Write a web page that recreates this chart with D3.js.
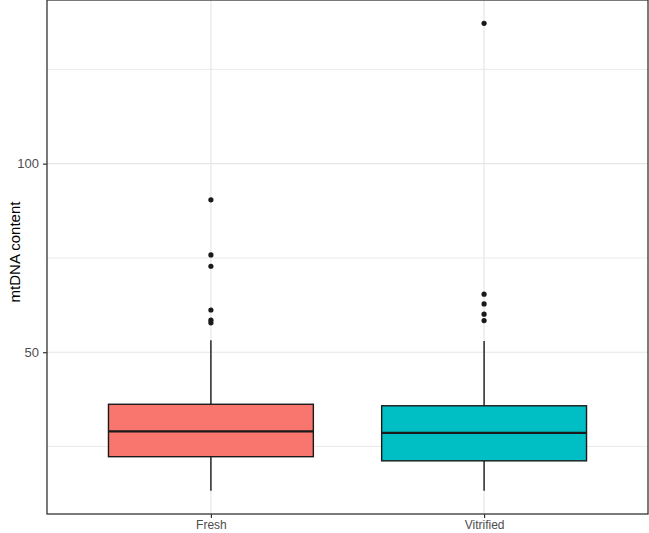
<!DOCTYPE html>
<html>
<head>
<meta charset="utf-8">
<script src="https://cdn.jsdelivr.net/npm/d3@7/dist/d3.min.js"></script>
<style>
  body { margin: 0; background: #fff; }
  svg { display: block; font-family: "Liberation Sans", Arial, sans-serif; }
</style>
</head>
<body>
<div id="graph"></div>
<script>
// data
var groups = ["Fresh", "Vitrified"];
var colors = ["#F8766D", "#00BFC4"];
var whiskerLow = [13.3, 13.3];
var q1 = [22.3, 21.2];
var medians = [29.0, 28.6];
var q3 = [36.2, 35.8];
var whiskerHigh = [53.2, 53.0];
var outliersFresh = [90.4, 75.8, 72.8, 61.2, 58.5, 57.8];
var outliersVitrified = [137.2, 65.4, 62.8, 60.1, 58.4];
var majorTicks = [50, 100];
var minorTicks = [25, 75, 125];

//measurements
var width = 649;
var height = 533;
var margin = { top: 0, right: 1, bottom: 19, left: 47 };
var chartWidth = width - margin.left - margin.right;
var chartHeight = height - margin.top - margin.bottom;

var svg = d3.select("#graph").append("svg")
    .attr("width", width)
    .attr("height", height);

var plot = svg.append("g")
    .attr("transform", "translate(" + margin.left + "," + margin.top + ")");

// scales (ggplot style: 5% expansion on continuous, 0.6 on discrete)
var allVals = whiskerLow.concat(whiskerHigh, outliersFresh, outliersVitrified);
var lo = d3.min(allVals), hi = d3.max(allVals);
var pad = (hi - lo) * 0.05;
var y = d3.scaleLinear()
    .domain([lo - pad, hi + pad])
    .range([chartHeight, 0]);

var x = d3.scaleLinear()
    .domain([0.4, groups.length + 0.6])
    .range([0, chartWidth]);
var boxW = x(1.375) - x(1);

// grid
plot.selectAll(".minor")
    .data(minorTicks)
    .enter().append("line")
    .attr("class", "minor")
    .attr("x1", 0).attr("x2", chartWidth)
    .attr("y1", function(d) { return y(d); })
    .attr("y2", function(d) { return y(d); })
    .attr("stroke", "#ebebeb")
    .attr("stroke-width", 1);

plot.selectAll(".major")
    .data(majorTicks)
    .enter().append("line")
    .attr("class", "major")
    .attr("x1", 0).attr("x2", chartWidth)
    .attr("y1", function(d) { return y(d); })
    .attr("y2", function(d) { return y(d); })
    .attr("stroke", "#e6e6e6")
    .attr("stroke-width", 1.2);

plot.selectAll(".vgrid")
    .data(groups)
    .enter().append("line")
    .attr("class", "vgrid")
    .attr("x1", function(d, i) { return x(i + 1); })
    .attr("x2", function(d, i) { return x(i + 1); })
    .attr("y1", 0).attr("y2", chartHeight)
    .attr("stroke", "#e6e6e6")
    .attr("stroke-width", 1.2);

// boxes
var box = plot.selectAll(".box")
    .data(groups)
    .enter().append("g")
    .attr("class", "box");

// whiskers
box.append("line")
    .attr("x1", function(d, i) { return x(i + 1); })
    .attr("x2", function(d, i) { return x(i + 1); })
    .attr("y1", function(d, i) { return y(q3[i]); })
    .attr("y2", function(d, i) { return y(whiskerHigh[i]); })
    .attr("stroke", "#1a1a1a").attr("stroke-width", 1.4);
box.append("line")
    .attr("x1", function(d, i) { return x(i + 1); })
    .attr("x2", function(d, i) { return x(i + 1); })
    .attr("y1", function(d, i) { return y(q1[i]); })
    .attr("y2", function(d, i) { return y(whiskerLow[i]); })
    .attr("stroke", "#1a1a1a").attr("stroke-width", 1.4);

box.append("rect")
    .attr("x", function(d, i) { return x(i + 1) - boxW; })
    .attr("width", boxW * 2)
    .attr("y", function(d, i) { return y(q3[i]); })
    .attr("height", function(d, i) { return y(q1[i]) - y(q3[i]); })
    .attr("fill", function(d, i) { return colors[i]; })
    .attr("stroke", "#1a1a1a")
    .attr("stroke-width", 1.4);

box.append("line")
    .attr("x1", function(d, i) { return x(i + 1) - boxW; })
    .attr("x2", function(d, i) { return x(i + 1) + boxW; })
    .attr("y1", function(d, i) { return y(medians[i]); })
    .attr("y2", function(d, i) { return y(medians[i]); })
    .attr("stroke", "#1a1a1a").attr("stroke-width", 2.2);

// outliers
var outliers = [outliersFresh, outliersVitrified];
box.selectAll(".dot")
    .data(function(d, i) { return outliers[i].map(function(v) { return { v: v, i: i }; }); })
    .enter().append("circle")
    .attr("class", "dot")
    .attr("cx", function(d) { return x(d.i + 1); })
    .attr("cy", function(d) { return y(d.v); })
    .attr("r", 2.6)
    .attr("fill", "#1a1a1a");

// panel border
plot.append("rect")
    .attr("x", 0).attr("y", 0)
    .attr("width", chartWidth).attr("height", chartHeight)
    .attr("fill", "none")
    .attr("stroke", "#333333")
    .attr("stroke-width", 1.3);

// axes
var yAxis = d3.axisLeft(y).tickValues(majorTicks).tickSize(4).tickPadding(4);
var yG = plot.append("g").call(yAxis);
yG.select(".domain").remove();
yG.selectAll("line").attr("stroke", "#333333").attr("stroke-width", 1.2);
yG.selectAll("text").attr("fill", "#4d4d4d").style("font-size", "13px");

var xAxis = d3.axisBottom(x).tickValues([1, 2])
    .tickFormat(function(d) { return groups[d - 1]; })
    .tickSize(4).tickPadding(2);
var xG = plot.append("g")
    .attr("transform", "translate(0," + chartHeight + ")")
    .call(xAxis);
xG.select(".domain").remove();
xG.selectAll("line").attr("stroke", "#333333").attr("stroke-width", 1.2);
xG.selectAll("text").attr("fill", "#4d4d4d").style("font-size", "12px");

// y axis title
svg.append("text")
    .attr("text-anchor", "middle")
    .attr("transform", "translate(20," + (margin.top + chartHeight / 2 - 5) + ") rotate(-90)")
    .style("font-size", "15px")
    .attr("fill", "#000")
    .text("mtDNA content");
</script>
</body>
</html>
